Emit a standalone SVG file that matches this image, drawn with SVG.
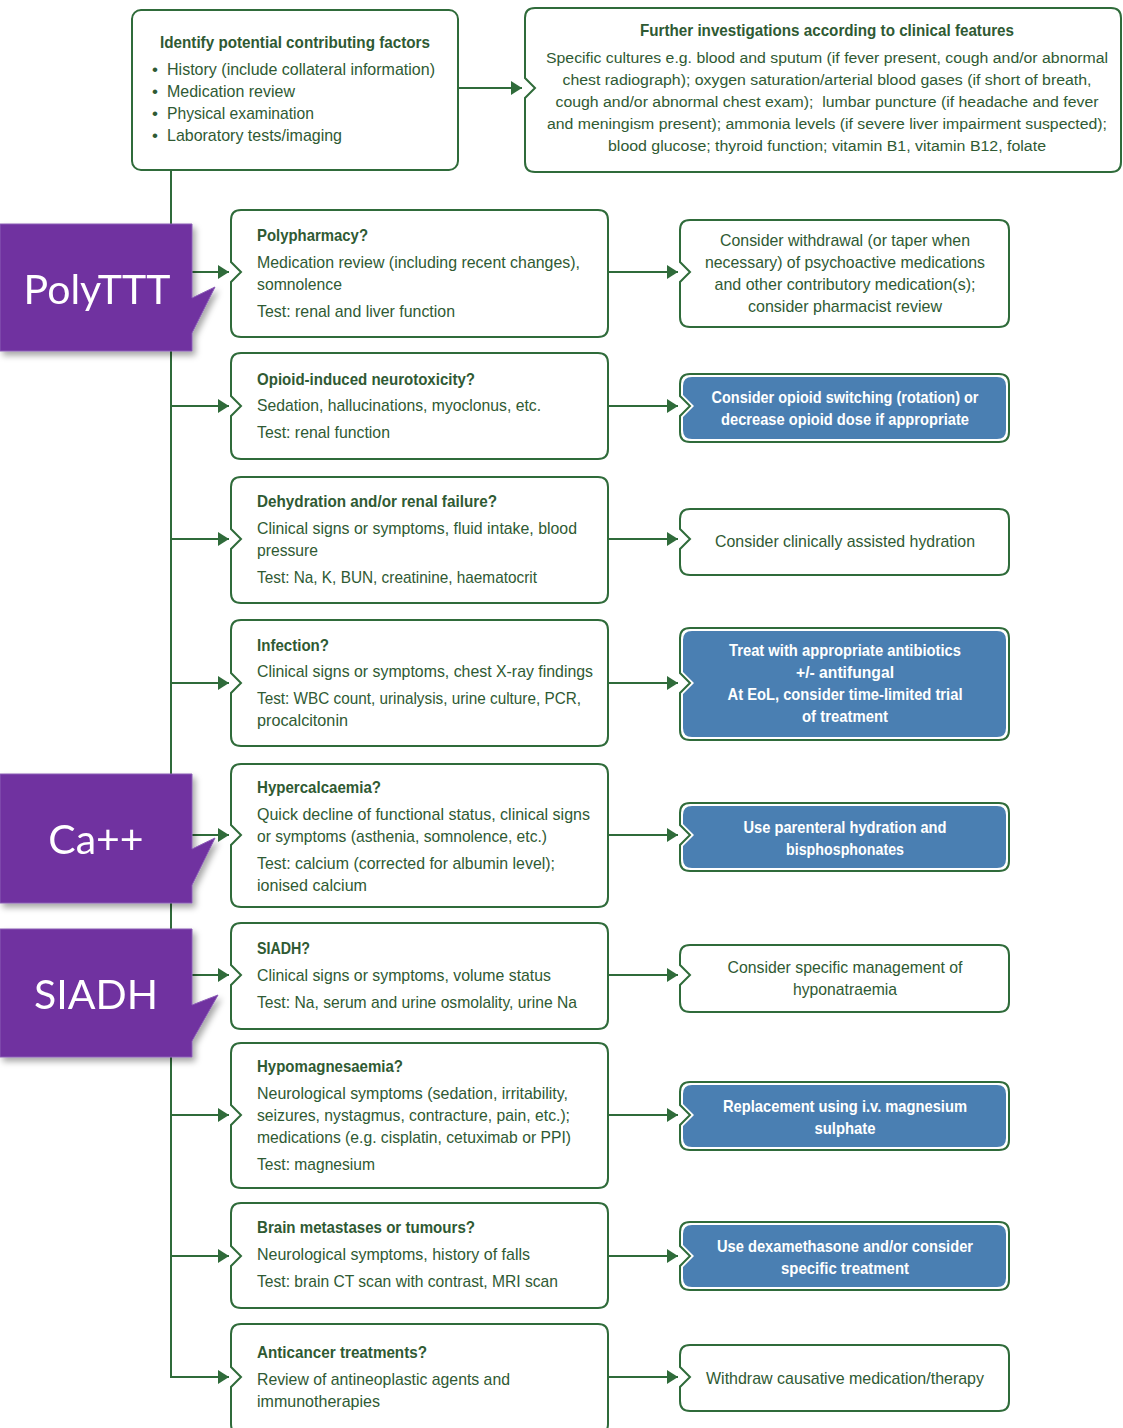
<svg xmlns="http://www.w3.org/2000/svg" width="1123" height="1428" viewBox="0 0 1123 1428">
<style>
.box{fill:#fff;stroke:#2f6b3a;stroke-width:2}
.blue{fill:#4a7fb2}
.t{font-family:"Liberation Sans Narrow","Liberation Sans",Arial,sans-serif;font-size:17px;fill:#2f5a33}
.s{font-size:15.5px}
.b{font-weight:bold}
.c{text-anchor:middle}
.w{fill:#fff;font-weight:bold}
.conn{stroke:#2f6b3a;stroke-width:2;fill:none}
.call{fill:#7030a0;stroke:#8a5cb5;stroke-width:1}
.ct{font-family:Lato,"Open Sans",sans-serif;font-size:41px;fill:#fff;text-anchor:middle}
</style>
<defs>
<marker id="ah" markerUnits="userSpaceOnUse" markerWidth="12" markerHeight="14" refX="11" refY="7" orient="auto">
<path d="M0,0 L11,7 L0,14 Z" fill="#2f6b3a"/>
</marker>
<filter id="sh" x="-10%" y="-10%" width="130%" height="130%">
<feDropShadow dx="3" dy="4" stdDeviation="3" flood-color="#000" flood-opacity="0.35"/>
</filter>
</defs>
<rect width="1123" height="1428" fill="#fff"/>

<g id="connectors">
<path class="conn" d="M458,88 H522" marker-end="url(#ah)"/>
<path class="conn" d="M171,170 V1377 H229" marker-end="url(#ah)"/>
<path class="conn" d="M171,272 H229" marker-end="url(#ah)"/>
<path class="conn" d="M171,406 H229" marker-end="url(#ah)"/>
<path class="conn" d="M171,539 H229" marker-end="url(#ah)"/>
<path class="conn" d="M171,683 H229" marker-end="url(#ah)"/>
<path class="conn" d="M171,835 H229" marker-end="url(#ah)"/>
<path class="conn" d="M171,975 H229" marker-end="url(#ah)"/>
<path class="conn" d="M171,1115 H229" marker-end="url(#ah)"/>
<path class="conn" d="M171,1256 H229" marker-end="url(#ah)"/>
<path class="conn" d="M608,272 H678" marker-end="url(#ah)"/>
<path class="conn" d="M608,406 H678" marker-end="url(#ah)"/>
<path class="conn" d="M608,539 H678" marker-end="url(#ah)"/>
<path class="conn" d="M608,683 H678" marker-end="url(#ah)"/>
<path class="conn" d="M608,835 H678" marker-end="url(#ah)"/>
<path class="conn" d="M608,975 H678" marker-end="url(#ah)"/>
<path class="conn" d="M608,1115 H678" marker-end="url(#ah)"/>
<path class="conn" d="M608,1256 H678" marker-end="url(#ah)"/>
<path class="conn" d="M608,1377 H678" marker-end="url(#ah)"/>
</g>

<g id="identify">
<rect class="box" x="132" y="10" width="326" height="160" rx="9"/>
<text class="t b c" x="295" y="48" textLength="270" lengthAdjust="spacingAndGlyphs">Identify potential contributing factors</text>
<text class="t" x="152" y="75">•</text><text class="t" x="167" y="75" textLength="268" lengthAdjust="spacingAndGlyphs">History (include collateral information)</text>
<text class="t" x="152" y="97">•</text><text class="t" x="167" y="97" textLength="128" lengthAdjust="spacingAndGlyphs">Medication review</text>
<text class="t" x="152" y="119">•</text><text class="t" x="167" y="119" textLength="147" lengthAdjust="spacingAndGlyphs">Physical examination</text>
<text class="t" x="152" y="141">•</text><text class="t" x="167" y="141" textLength="175" lengthAdjust="spacingAndGlyphs">Laboratory tests/imaging</text>
</g>

<g id="further">
<path class="box" d="M535,8 H1111 Q1121,8 1121,18 V162 Q1121,172 1111,172 H535 Q525,172 525,162 V98 L535,88 L525,78 V18 Q525,8 535,8 Z"/>
<text class="t b c" x="827" y="36" textLength="374" lengthAdjust="spacingAndGlyphs">Further investigations according to clinical features</text>
<text class="t s c" x="827" y="63" textLength="562" lengthAdjust="spacingAndGlyphs">Specific cultures e.g. blood and sputum (if fever present, cough and/or abnormal</text>
<text class="t s c" x="827" y="85" textLength="529" lengthAdjust="spacingAndGlyphs">chest radiograph); oxygen saturation/arterial blood gases (if short of breath,</text>
<text class="t s c" x="827" y="107" textLength="543" lengthAdjust="spacingAndGlyphs" xml:space="preserve">cough and/or abnormal chest exam);  lumbar puncture (if headache and fever</text>
<text class="t s c" x="827" y="129" textLength="560" lengthAdjust="spacingAndGlyphs">and meningism present); ammonia levels (if severe liver impairment suspected);</text>
<text class="t s c" x="827" y="151" textLength="438" lengthAdjust="spacingAndGlyphs">blood glucose; thyroid function; vitamin B1, vitamin B12, folate</text>
</g>

<g id="polypharmacy">
<path class="box" d="M241,210 H598 Q608,210 608,220 V327 Q608,337 598,337 H241 Q231,337 231,327 V282 L241,272 L231,262 V220 Q231,210 241,210 Z"/>
<text class="t b" x="257" y="241" textLength="111" lengthAdjust="spacingAndGlyphs">Polypharmacy?</text>
<text class="t" x="257" y="268" textLength="323" lengthAdjust="spacingAndGlyphs">Medication review (including recent changes),</text>
<text class="t" x="257" y="290" textLength="85" lengthAdjust="spacingAndGlyphs">somnolence</text>
<text class="t" x="257" y="317" textLength="198" lengthAdjust="spacingAndGlyphs">Test: renal and liver function</text>
</g>
<g id="opioid">
<path class="box" d="M241,353 H598 Q608,353 608,363 V449 Q608,459 598,459 H241 Q231,459 231,449 V416 L241,406 L231,396 V363 Q231,353 241,353 Z"/>
<text class="t b" x="257" y="385" textLength="218" lengthAdjust="spacingAndGlyphs">Opioid-induced neurotoxicity?</text>
<text class="t" x="257" y="411" textLength="284" lengthAdjust="spacingAndGlyphs">Sedation, hallucinations, myoclonus, etc.</text>
<text class="t" x="257" y="438" textLength="133" lengthAdjust="spacingAndGlyphs">Test: renal function</text>
</g>
<g id="dehydration">
<path class="box" d="M241,477 H598 Q608,477 608,487 V593 Q608,603 598,603 H241 Q231,603 231,593 V549 L241,539 L231,529 V487 Q231,477 241,477 Z"/>
<text class="t b" x="257" y="507" textLength="240" lengthAdjust="spacingAndGlyphs">Dehydration and/or renal failure?</text>
<text class="t" x="257" y="534" textLength="320" lengthAdjust="spacingAndGlyphs">Clinical signs or symptoms, fluid intake, blood</text>
<text class="t" x="257" y="556" textLength="61" lengthAdjust="spacingAndGlyphs">pressure</text>
<text class="t" x="257" y="583" textLength="280" lengthAdjust="spacingAndGlyphs">Test: Na, K, BUN, creatinine, haematocrit</text>
</g>
<g id="infection">
<path class="box" d="M241,620 H598 Q608,620 608,630 V736 Q608,746 598,746 H241 Q231,746 231,736 V693 L241,683 L231,673 V630 Q231,620 241,620 Z"/>
<text class="t b" x="257" y="651" textLength="72" lengthAdjust="spacingAndGlyphs">Infection?</text>
<text class="t" x="257" y="677" textLength="336" lengthAdjust="spacingAndGlyphs">Clinical signs or symptoms, chest X-ray findings</text>
<text class="t" x="257" y="704" textLength="324" lengthAdjust="spacingAndGlyphs">Test: WBC count, urinalysis, urine culture, PCR,</text>
<text class="t" x="257" y="726" textLength="91" lengthAdjust="spacingAndGlyphs">procalcitonin</text>
</g>
<g id="hypercalcaemia">
<path class="box" d="M241,764 H598 Q608,764 608,774 V897 Q608,907 598,907 H241 Q231,907 231,897 V845 L241,835 L231,825 V774 Q231,764 241,764 Z"/>
<text class="t b" x="257" y="793" textLength="124" lengthAdjust="spacingAndGlyphs">Hypercalcaemia?</text>
<text class="t" x="257" y="820" textLength="333" lengthAdjust="spacingAndGlyphs">Quick decline of functional status, clinical signs</text>
<text class="t" x="257" y="842" textLength="290" lengthAdjust="spacingAndGlyphs">or symptoms (asthenia, somnolence, etc.)</text>
<text class="t" x="257" y="869" textLength="298" lengthAdjust="spacingAndGlyphs">Test: calcium (corrected for albumin level);</text>
<text class="t" x="257" y="891" textLength="110" lengthAdjust="spacingAndGlyphs">ionised calcium</text>
</g>
<g id="siadh">
<path class="box" d="M241,923 H598 Q608,923 608,933 V1019 Q608,1029 598,1029 H241 Q231,1029 231,1019 V985 L241,975 L231,965 V933 Q231,923 241,923 Z"/>
<text class="t b" x="257" y="954" textLength="53" lengthAdjust="spacingAndGlyphs">SIADH?</text>
<text class="t" x="257" y="981" textLength="294" lengthAdjust="spacingAndGlyphs">Clinical signs or symptoms, volume status</text>
<text class="t" x="257" y="1008" textLength="320" lengthAdjust="spacingAndGlyphs">Test: Na, serum and urine osmolality, urine Na</text>
</g>
<g id="hypomagnesaemia">
<path class="box" d="M241,1043 H598 Q608,1043 608,1053 V1178 Q608,1188 598,1188 H241 Q231,1188 231,1178 V1125 L241,1115 L231,1105 V1053 Q231,1043 241,1043 Z"/>
<text class="t b" x="257" y="1072" textLength="146" lengthAdjust="spacingAndGlyphs">Hypomagnesaemia?</text>
<text class="t" x="257" y="1099" textLength="311" lengthAdjust="spacingAndGlyphs">Neurological symptoms (sedation, irritability,</text>
<text class="t" x="257" y="1121" textLength="313" lengthAdjust="spacingAndGlyphs">seizures, nystagmus, contracture, pain, etc.);</text>
<text class="t" x="257" y="1143" textLength="314" lengthAdjust="spacingAndGlyphs">medications (e.g. cisplatin, cetuximab or PPI)</text>
<text class="t" x="257" y="1170" textLength="118" lengthAdjust="spacingAndGlyphs">Test: magnesium</text>
</g>
<g id="brain">
<path class="box" d="M241,1203 H598 Q608,1203 608,1213 V1298 Q608,1308 598,1308 H241 Q231,1308 231,1298 V1266 L241,1256 L231,1246 V1213 Q231,1203 241,1203 Z"/>
<text class="t b" x="257" y="1233" textLength="218" lengthAdjust="spacingAndGlyphs">Brain metastases or tumours?</text>
<text class="t" x="257" y="1260" textLength="273" lengthAdjust="spacingAndGlyphs">Neurological symptoms, history of falls</text>
<text class="t" x="257" y="1287" textLength="301" lengthAdjust="spacingAndGlyphs">Test: brain CT scan with contrast, MRI scan</text>
</g>
<g id="anticancer">
<path class="box" d="M241,1324 H598 Q608,1324 608,1334 V1424 Q608,1434 598,1434 H241 Q231,1434 231,1424 V1387 L241,1377 L231,1367 V1334 Q231,1324 241,1324 Z"/>
<text class="t b" x="257" y="1358" textLength="170" lengthAdjust="spacingAndGlyphs">Anticancer treatments?</text>
<text class="t" x="257" y="1385" textLength="253" lengthAdjust="spacingAndGlyphs">Review of antineoplastic agents and</text>
<text class="t" x="257" y="1407" textLength="123" lengthAdjust="spacingAndGlyphs">immunotherapies</text>
</g>

<g id="withdrawal">
<path class="box" d="M690,220 H999 Q1009,220 1009,230 V317 Q1009,327 999,327 H690 Q680,327 680,317 V282 L690,272 L680,262 V230 Q680,220 690,220 Z"/>
<text class="t c" x="845" y="246" textLength="250" lengthAdjust="spacingAndGlyphs">Consider withdrawal (or taper when</text>
<text class="t c" x="845" y="268" textLength="280" lengthAdjust="spacingAndGlyphs">necessary) of psychoactive medications</text>
<text class="t c" x="845" y="290" textLength="261" lengthAdjust="spacingAndGlyphs">and other contributory medication(s);</text>
<text class="t c" x="845" y="312" textLength="194" lengthAdjust="spacingAndGlyphs">consider pharmacist review</text>
</g>
<g id="switching">
<path class="box" d="M690,374 H999 Q1009,374 1009,384 V432 Q1009,442 999,442 H690 Q680,442 680,432 V416 L690,406 L680,396 V384 Q680,374 690,374 Z"/>
<path class="blue" d="M692,377 H997 Q1006,377 1006,386 V430 Q1006,439 997,439 H692 Q683,439 683,430 V417 L694,406 L683,395 V386 Q683,377 692,377 Z"/>
<text class="t w c" x="845" y="403" textLength="267" lengthAdjust="spacingAndGlyphs">Consider opioid switching (rotation) or</text>
<text class="t w c" x="845" y="425" textLength="248" lengthAdjust="spacingAndGlyphs">decrease opioid dose if appropriate</text>
</g>
<g id="hydration">
<path class="box" d="M690,509 H999 Q1009,509 1009,519 V565 Q1009,575 999,575 H690 Q680,575 680,565 V549 L690,539 L680,529 V519 Q680,509 690,509 Z"/>
<text class="t c" x="845" y="547" textLength="260" lengthAdjust="spacingAndGlyphs">Consider clinically assisted hydration</text>
</g>
<g id="antibiotics">
<path class="box" d="M690,628 H999 Q1009,628 1009,638 V730 Q1009,740 999,740 H690 Q680,740 680,730 V693 L690,683 L680,673 V638 Q680,628 690,628 Z"/>
<path class="blue" d="M692,631 H997 Q1006,631 1006,640 V728 Q1006,737 997,737 H692 Q683,737 683,728 V694 L694,683 L683,672 V640 Q683,631 692,631 Z"/>
<text class="t w c" x="845" y="656" textLength="232" lengthAdjust="spacingAndGlyphs">Treat with appropriate antibiotics</text>
<text class="t w c" x="845" y="678" textLength="98" lengthAdjust="spacingAndGlyphs">+/- antifungal</text>
<text class="t w c" x="845" y="700" textLength="235" lengthAdjust="spacingAndGlyphs">At EoL, consider time-limited trial</text>
<text class="t w c" x="845" y="722" textLength="86" lengthAdjust="spacingAndGlyphs">of treatment</text>
</g>
<g id="bisphosphonates">
<path class="box" d="M690,803 H999 Q1009,803 1009,813 V861 Q1009,871 999,871 H690 Q680,871 680,861 V845 L690,835 L680,825 V813 Q680,803 690,803 Z"/>
<path class="blue" d="M692,806 H997 Q1006,806 1006,815 V859 Q1006,868 997,868 H692 Q683,868 683,859 V846 L694,835 L683,824 V815 Q683,806 692,806 Z"/>
<text class="t w c" x="845" y="833" textLength="203" lengthAdjust="spacingAndGlyphs">Use parenteral hydration and</text>
<text class="t w c" x="845" y="855" textLength="118" lengthAdjust="spacingAndGlyphs">bisphosphonates</text>
</g>
<g id="hyponatraemia">
<path class="box" d="M690,945 H999 Q1009,945 1009,955 V1002 Q1009,1012 999,1012 H690 Q680,1012 680,1002 V985 L690,975 L680,965 V955 Q680,945 690,945 Z"/>
<text class="t c" x="845" y="973" textLength="235" lengthAdjust="spacingAndGlyphs">Consider specific management of</text>
<text class="t c" x="845" y="995" textLength="104" lengthAdjust="spacingAndGlyphs">hyponatraemia</text>
</g>
<g id="magnesium">
<path class="box" d="M690,1082 H999 Q1009,1082 1009,1092 V1140 Q1009,1150 999,1150 H690 Q680,1150 680,1140 V1125 L690,1115 L680,1105 V1092 Q680,1082 690,1082 Z"/>
<path class="blue" d="M692,1085 H997 Q1006,1085 1006,1094 V1138 Q1006,1147 997,1147 H692 Q683,1147 683,1138 V1126 L694,1115 L683,1104 V1094 Q683,1085 692,1085 Z"/>
<text class="t w c" x="845" y="1112" textLength="244" lengthAdjust="spacingAndGlyphs">Replacement using i.v. magnesium</text>
<text class="t w c" x="845" y="1134" textLength="61" lengthAdjust="spacingAndGlyphs">sulphate</text>
</g>
<g id="dexamethasone">
<path class="box" d="M690,1222 H999 Q1009,1222 1009,1232 V1280 Q1009,1290 999,1290 H690 Q680,1290 680,1280 V1266 L690,1256 L680,1246 V1232 Q680,1222 690,1222 Z"/>
<path class="blue" d="M692,1225 H997 Q1006,1225 1006,1234 V1278 Q1006,1287 997,1287 H692 Q683,1287 683,1278 V1267 L694,1256 L683,1245 V1234 Q683,1225 692,1225 Z"/>
<text class="t w c" x="845" y="1252" textLength="256" lengthAdjust="spacingAndGlyphs">Use dexamethasone and/or consider</text>
<text class="t w c" x="845" y="1274" textLength="128" lengthAdjust="spacingAndGlyphs">specific treatment</text>
</g>
<g id="withdraw-therapy">
<path class="box" d="M690,1345 H999 Q1009,1345 1009,1355 V1401 Q1009,1411 999,1411 H690 Q680,1411 680,1401 V1387 L690,1377 L680,1367 V1355 Q680,1345 690,1345 Z"/>
<text class="t c" x="845" y="1384" textLength="278" lengthAdjust="spacingAndGlyphs">Withdraw causative medication/therapy</text>
</g>

<g id="callout-polyttt" filter="url(#sh)">
<path class="call" d="M0,224 H192 V298 L215,287 L192,333 V351 H0 Z"/>
<text class="ct" x="97" y="304">PolyTTT</text>
</g>
<g id="callout-ca" filter="url(#sh)">
<path class="call" d="M0,774 H192 V849 L215,838 L192,885 V903 H0 Z"/>
<text class="ct" x="96" y="854">Ca++</text>
</g>
<g id="callout-siadh" filter="url(#sh)">
<path class="call" d="M0,929 H192 V1005 L218,995 L192,1041 V1057 H0 Z"/>
<text class="ct" x="96" y="1009">SIADH</text>
</g>
</svg>
